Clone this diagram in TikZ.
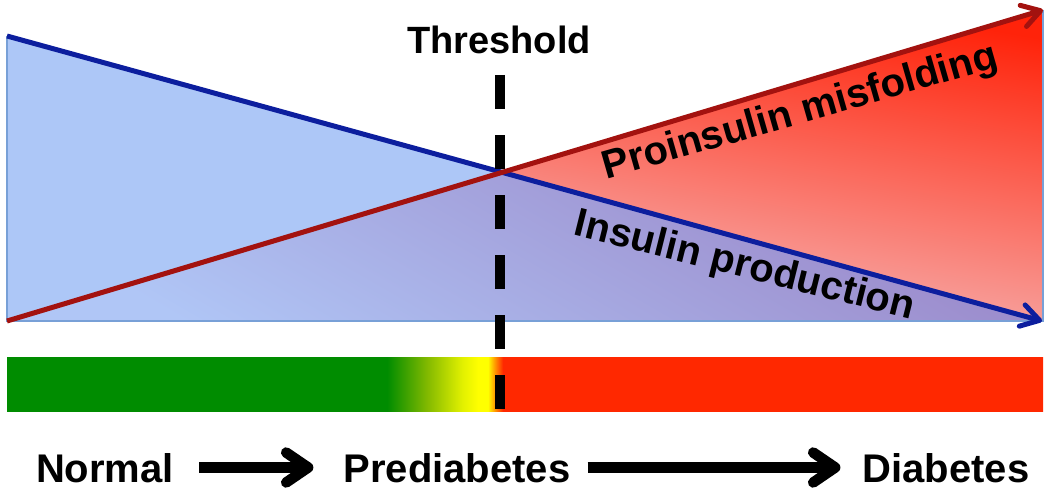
\documentclass[tikz,border=0pt]{standalone}
\usepackage{fontspec}
\setmainfont{Liberation Sans}
\usetikzlibrary{arrows.meta}
\definecolor{lightblue}{RGB}{173,199,247}
\definecolor{edgeblue}{RGB}{120,160,215}
\definecolor{lineblue}{RGB}{12,30,158}
\definecolor{linered}{RGB}{163,18,15}
\definecolor{redtop}{RGB}{255,35,10}
\definecolor{redbot}{RGB}{246,184,184}
\definecolor{purtop}{RGB}{154,134,200}
\definecolor{purbot}{RGB}{176,198,246}
\definecolor{bargreen}{RGB}{0,140,0}
\definecolor{barlime}{RGB}{130,185,0}
\definecolor{barlemon}{RGB}{225,240,0}
\definecolor{baryellow}{RGB}{255,255,0}
\definecolor{barorange}{RGB}{255,150,0}
\definecolor{barred}{RGB}{255,40,0}
\pgfdeclarehorizontalshading{barshade}{100bp}{color(0bp)=(bargreen); color(43.34bp)=(bargreen); color(45.27bp)=(barlime); color(46.96bp)=(barlemon); color(47.73bp)=(baryellow); color(48.21bp)=(baryellow); color(48.55bp)=(barorange); color(48.94bp)=(barred); color(100bp)=(barred)}
\begin{document}
\begin{tikzpicture}[x=1pt,y=-1pt,
  lbl/.style={font=\bfseries\fontsize{40}{48}\selectfont, inner sep=0pt, text height=29pt, text depth=0pt},
  edge/.style={draw=edgeblue, line width=1.5pt},
  blueline/.style={draw=lineblue, line width=5pt, -{Straight Barb[length=18pt,width=22pt,round]}},
  redline/.style={draw=linered, line width=5pt, -{Straight Barb[length=18pt,width=22pt,round]}},
  thresh/.style={draw=black, line width=9.5pt, dash pattern=on 34pt off 26pt},
  bigarrow/.style={draw=black, line width=10.5pt, -{Straight Barb[length=22pt,width=30pt,round]}}]
\useasboundingbox (0,0) rectangle (1050,495);
\coordinate (B1) at (7,36);
\coordinate (B2) at (1042,321);
\coordinate (R1) at (7,321);
\coordinate (R2) at (1043,10);
\coordinate (BR) at (1043,321);
\coordinate (C) at (intersection of B1--B2 and R1--R2);
% fills
\fill[lightblue] (B1) -- (C) -- (R1) -- cycle;
\shade[top color=redtop, bottom color=redbot, shading angle=-10] (C) -- (R2) -- (BR) -- cycle;
\shade[top color=purtop, bottom color=purbot, shading angle=-30] (R1) -- (C) -- (BR) -- cycle;
\draw[edge] (B1) -- (R1) -- (BR) -- (R2);
% lines
\draw[blueline] (B1) -- (B2);
\draw[redline] (R1) -- (R2);
% labels on lines
\node[lbl, rotate=16, anchor=base] (mis) at (803,123) {Proinsulin misfolding};
\node[lbl, rotate=-14, anchor=base] (ins) at (742,277) {Insulin production};
% bar
\shade[shading=barshade] (7,357) rectangle (1043,411);
% threshold
\node[lbl, font=\bfseries\fontsize{38}{46}\selectfont, anchor=base] (thr) at (499,54) {Threshold};
\coordinate (T1) at (500,75);
\coordinate (T2) at (500,410);
\draw[thresh] (T1) -- (T2);
% bottom
\node[lbl, anchor=base] (normal) at (105,482) {Normal};
\node[lbl, anchor=base] (pre) at (457,482) {Prediabetes};
\node[lbl, anchor=base] (dia) at (946,482) {Diabetes};
\draw[bigarrow, shorten <=25pt, shorten >=30pt] (normal.east) -- (pre.west);
\draw[bigarrow, shorten <=17pt, shorten >=22pt] (pre.east) -- (dia.west);
\end{tikzpicture}
\end{document}
